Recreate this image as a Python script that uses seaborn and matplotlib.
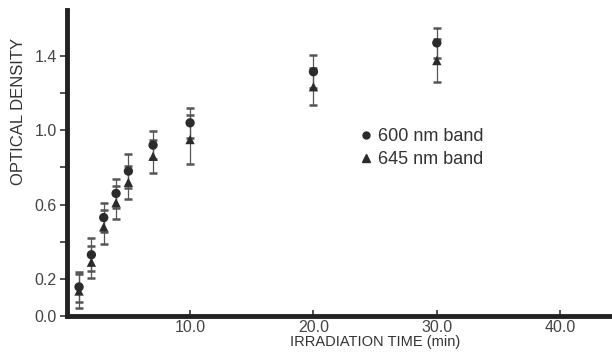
import numpy as np
import pandas as pd
import seaborn as sns
import matplotlib
matplotlib.use("Agg")
import matplotlib.pyplot as plt
from matplotlib.lines import Line2D

time_min = [1, 2, 3, 4, 5, 7, 10, 20, 30]
od_600 = [0.157, 0.33, 0.53, 0.66, 0.78, 0.92, 1.04, 1.315, 1.47]
err_600 = [0.08, 0.09, 0.08, 0.08, 0.09, 0.075, 0.08, 0.09, 0.08]
od_645 = [0.135, 0.29, 0.48, 0.61, 0.72, 0.86, 0.95, 1.234, 1.375]
err_645 = [0.09, 0.085, 0.09, 0.09, 0.09, 0.09, 0.13, 0.10, 0.115]
series_names = ["600 nm band", "645 nm band"]
y_ticks = [0.0, 0.2, 0.6, 1.0, 1.4]
y_tick_labels = ["0.0", "0.2", "0.6", "1.0", "1.4"]
y_minor = [0.4, 0.8, 1.2]
x_ticks = [10, 20, 30, 40]
x_tick_labels = ["10.0", "20.0", "30.0", "40.0"]

sns.set_theme(style="white")
plt.rcParams['font.family'] = ['Liberation Sans', 'DejaVu Sans']

df = pd.DataFrame({
    "time": time_min * 2,
    "od": od_600 + od_645,
    "err": err_600 + err_645,
    "band": [series_names[0]] * len(time_min) + [series_names[1]] * len(time_min),
})

fig = plt.figure(figsize=(6.12, 3.52), dpi=100)
ax = fig.add_axes([0.109, 0.102, 0.891, 0.869])

ink = "#2b2b2b"
for name, sub in df.groupby("band"):
    ax.errorbar(sub["time"], sub["od"], yerr=sub["err"], fmt="none",
                ecolor="#555555", elinewidth=0.9, capsize=3, capthick=1.8, zorder=2)

sns.scatterplot(data=df, x="time", y="od", style="band", markers={series_names[0]: "o", series_names[1]: "^"},
                color=ink, s=45, edgecolor=ink, linewidth=0, ax=ax, legend=False, zorder=3)

ax.set_xlim(0, 44.2)
ax.set_ylim(0, 1.646)
ax.set_xticks(x_ticks)
ax.set_xticklabels(x_tick_labels)
ax.set_yticks(y_ticks)
ax.set_yticklabels(y_tick_labels)
ax.set_yticks(y_minor, minor=True)

for s in ["top", "right"]:
    ax.spines[s].set_visible(False)
for s in ["left", "bottom"]:
    ax.spines[s].set_linewidth(3.5)
    ax.spines[s].set_color("#222222")

ax.tick_params(axis="y", which="both", direction="out", length=5, width=1.2, color="#333333",
               labelsize=11.5, labelcolor="#444444", pad=2, left=True)
ax.tick_params(axis="x", direction="in", length=4, width=1.2, color="#333333",
               labelsize=11.5, labelcolor="#444444", pad=3, bottom=True)

ax.set_xlabel("IRRADIATION TIME (min)", fontsize=10.5, color="#333333")
ax.xaxis.set_label_coords(0.565, -0.062)
ax.set_ylabel("OPTICAL DENSITY", fontsize=12, color="#333333")
ax.yaxis.set_label_coords(-0.075, 0.67)

handles = [Line2D([], [], marker="o", linestyle="none", color=ink, markersize=5),
           Line2D([], [], marker="^", linestyle="none", color=ink, markersize=5.5)]
ax.legend(handles, series_names, loc="upper left", bbox_to_anchor=(0.522, 0.638), frameon=False,
          fontsize=13, handletextpad=0.25, labelspacing=0.32, borderaxespad=0, handlelength=0.8,
          labelcolor="#333333")

fig.savefig("out.png", dpi=100)
